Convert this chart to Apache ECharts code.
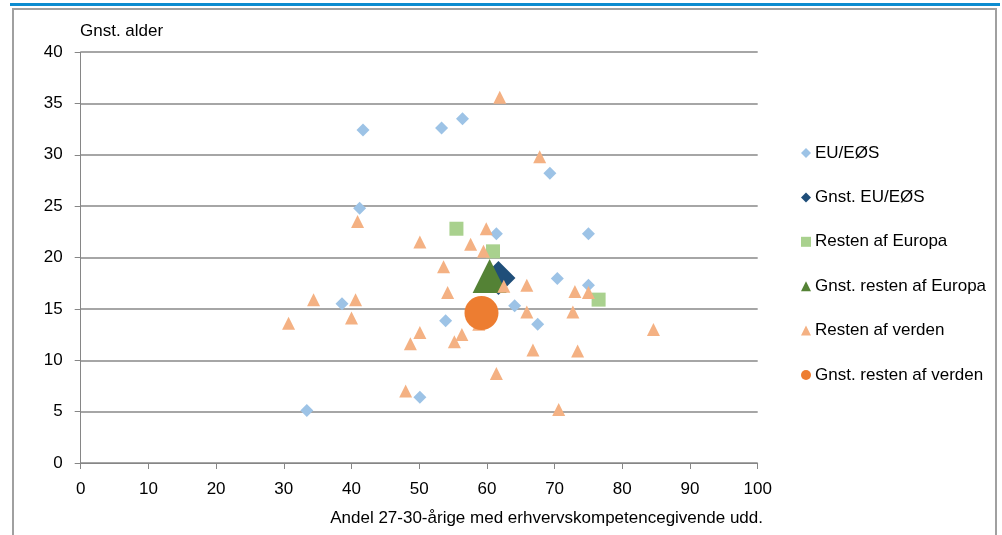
<!DOCTYPE html>
<html>
<head>
<meta charset="utf-8">
<script src="https://cdn.jsdelivr.net/npm/echarts@6/dist/echarts.min.js"></script>
<style>
html,body{margin:0;padding:0;background:#fff;}
#c{width:1002px;height:535px;}
</style>
</head>
<body>
<div id="c"></div>
<script>
const seriesNames = ['EU/EØS','Gnst. EU/EØS','Resten af Europa','Gnst. resten af Europa','Resten af verden','Gnst. resten af verden'];
const xTicks = [0,10,20,30,40,50,60,70,80,90,100];
const yTicks = [0,5,10,15,20,25,30,35,40];

const euX = [41.7, 53.3, 56.4, 41.2, 69.3, 61.4, 75.0, 70.4, 75.0, 38.6, 64.1, 67.5, 53.9, 50.1, 33.4];
const euY = [32.4, 32.6, 33.5, 24.8, 28.2, 22.3, 22.3, 17.95, 17.3, 15.5, 15.3, 13.5, 13.85, 6.4, 5.1];
const euAvg = [61.7, 18.0];
const eurX = [55.5, 60.9, 76.5];
const eurY = [22.8, 20.6, 15.9];
const eurAvg = [60.4, 18.2];
const rowX = [61.9, 67.8, 40.9, 59.9, 50.1, 57.6, 59.5, 53.6, 62.5, 65.9, 73.0, 75.0, 54.2, 34.4, 40.6, 30.7, 40.0, 65.9, 72.7, 84.6, 50.1, 56.3, 55.2, 48.7, 58.8, 66.8, 73.4, 61.4, 48.0, 70.6];
const rowY = [35.6, 29.8, 23.5, 22.8, 21.5, 21.3, 20.6, 19.1, 17.2, 17.3, 16.7, 16.6, 16.6, 15.9, 15.9, 13.6, 14.1, 14.7, 14.7, 13.0, 12.7, 12.5, 11.8, 11.6, 13.5, 11.0, 10.9, 8.7, 7.0, 5.2];
const rowAvg = [59.2, 14.6];

const zip = (xs, ys) => xs.map((x, i) => [x, ys[i]]);
const FONT = '"Liberation Sans", Arial, sans-serif';

const chart = echarts.init(document.getElementById('c'), null, {renderer: 'canvas'});
chart.setOption({
  animation: false,
  backgroundColor: '#ffffff',
  textStyle: {fontFamily: FONT},
  grid: {left: 80.7, right: 244.3, top: 52, bottom: 72, containLabel: false},
  xAxis: {
    type: 'value', min: xTicks[0], max: xTicks[xTicks.length - 1], interval: 10,
    axisLine: {show: true, lineStyle: {color: '#868686', width: 1}},
    axisTick: {show: true, length: 6, lineStyle: {color: '#868686'}},
    axisLabel: {color: '#000', fontSize: 17, fontFamily: FONT, margin: 18},
    splitLine: {show: false}
  },
  yAxis: {
    type: 'value', min: yTicks[0], max: yTicks[yTicks.length - 1], interval: 5,
    axisLine: {show: true, lineStyle: {color: '#868686', width: 1}},
    axisTick: {show: true, length: 6, lineStyle: {color: '#868686'}},
    axisLabel: {color: '#000', fontSize: 17, fontFamily: FONT, margin: 18},
    splitLine: {show: true, lineStyle: {color: '#a6a6a6', width: 2}}
  },
  legend: {
    orient: 'vertical', left: 796, top: 139.5,
    itemWidth: 10, itemHeight: 10, itemGap: 27.4,
    textStyle: {color: '#000', fontSize: 17, fontFamily: FONT, lineHeight: 17, padding: [0,0,0,-1]},
    data: seriesNames
  },
  graphic: [
    {type: 'line', shape: {x1: 10, y1: 4.5, x2: 1000, y2: 4.5}, style: {stroke: '#0C8CD0', lineWidth: 3}, silent: true},
    {type: 'rect', shape: {x: 13, y: 9, width: 983, height: 540}, style: {fill: null, stroke: '#a0a0a0', lineWidth: 2}, silent: true},
    {type: 'text', left: 80, top: 23, style: {text: 'Gnst. alder', fill: '#000', font: '17px ' + FONT}},
    {type: 'text', x: 763, y: 518, style: {text: 'Andel 27-30-årige med erhvervskompetencegivende udd.', fill: '#000', font: '17px ' + FONT, align: 'right', verticalAlign: 'middle'}}
  ],
  series: [
    {name: seriesNames[0], type: 'scatter', symbol: 'diamond', symbolSize: 13, itemStyle: {color: '#9DC3E6', opacity: 1}, data: zip(euX, euY)},
    {name: seriesNames[1], type: 'scatter', symbol: 'diamond', symbolSize: 34, itemStyle: {color: '#1F4E79', opacity: 1}, data: [euAvg]},
    {name: seriesNames[2], type: 'scatter', symbol: 'rect', symbolSize: 14, itemStyle: {color: '#A9D18E', opacity: 1}, data: zip(eurX, eurY)},
    {name: seriesNames[3], type: 'scatter', symbol: 'triangle', symbolSize: 34, itemStyle: {color: '#548235', opacity: 1}, data: [eurAvg]},
    {name: seriesNames[4], type: 'scatter', symbol: 'triangle', symbolSize: 13, itemStyle: {color: '#F4B183', opacity: 1}, data: zip(rowX, rowY)},
    {name: seriesNames[5], type: 'scatter', symbol: 'circle', symbolSize: 34, itemStyle: {color: '#ED7D31', opacity: 1}, data: [rowAvg]}
  ]
});
</script>
</body>
</html>
